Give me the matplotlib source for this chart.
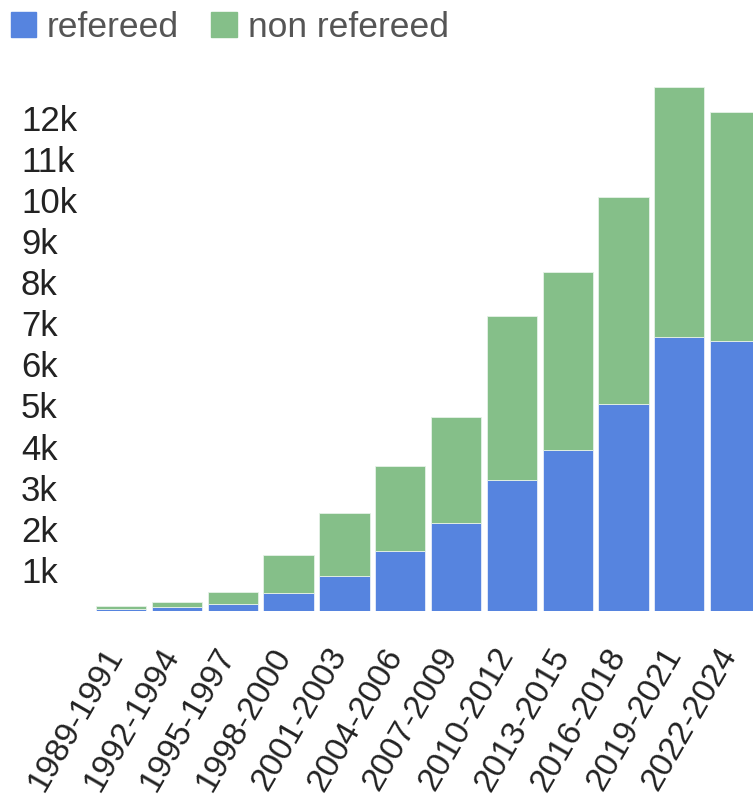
import matplotlib.pyplot as plt
import matplotlib.transforms as mtransforms
from matplotlib.patches import Patch
from matplotlib.ticker import FuncFormatter

plt.rcParams['font.family'] = ['Liberation Sans', 'DejaVu Sans']

periods = ['1989-1991', '1992-1994', '1995-1997', '1998-2000', '2001-2003', '2004-2006',
           '2007-2009', '2010-2012', '2013-2015', '2016-2018', '2019-2021', '2022-2024']
refereed = [49, 97, 163, 426, 844, 1454, 2133, 3180, 3910, 5026, 6655, 6558]
totals = [130, 212, 470, 1362, 2377, 3520, 4713, 7170, 8240, 10066, 12742, 12134]
non_refereed = [t - r for t, r in zip(totals, refereed)]

blue = '#5684DF'
green = '#85BF89'

fig = plt.figure(figsize=(7.53, 7.96), dpi=100)
ax = fig.add_axes([0.1238, 0.2324, 0.8762, 0.661])

x = range(len(periods))
ax.bar(x, refereed, width=0.9, color=blue, edgecolor='#e8eefa', linewidth=0.6)
ax.bar(x, non_refereed, width=0.9, bottom=refereed, color=green, edgecolor='#e6f2e7', linewidth=0.6)

ax.set_xlim(-0.5, 11.32)
ax.set_ylim(0, 12800)
ax.set_yticks(range(1000, 12001, 1000))
ax.yaxis.set_major_formatter(FuncFormatter(lambda v, p: f'{int(v / 1000)}k'))
ax.tick_params(axis='y', length=0, pad=52, labelsize=25, labelcolor='#222222')
for lbl in ax.get_yticklabels():
    lbl.set_horizontalalignment('left')

ax.set_xticks(list(x))
ax.set_xticklabels(periods, rotation=60, ha='right', va='center', rotation_mode='anchor',
                   fontsize=24, color='#222222')
ax.tick_params(axis='x', length=0, pad=16)
# nudge rotated labels so their ends sit just under the bar centres
shift = mtransforms.ScaledTranslation(-5 / 100, -17 / 100, fig.dpi_scale_trans)
for lbl in ax.get_xticklabels():
    lbl.set_transform(lbl.get_transform() + shift)

for s in ax.spines.values():
    s.set_visible(False)

handles = [Patch(color=blue, label='refereed'), Patch(color=green, label='non refereed')]
fig.legend(handles=handles, loc='upper left', bbox_to_anchor=(0.0, 1.0), ncol=2,
           frameon=False, fontsize=25.5, labelcolor='#555555', handlelength=0.73,
           handleheight=0.73, handletextpad=0.3, columnspacing=0.9,
           borderaxespad=0.0, borderpad=0.3)

fig.savefig('out.png', dpi=100)
